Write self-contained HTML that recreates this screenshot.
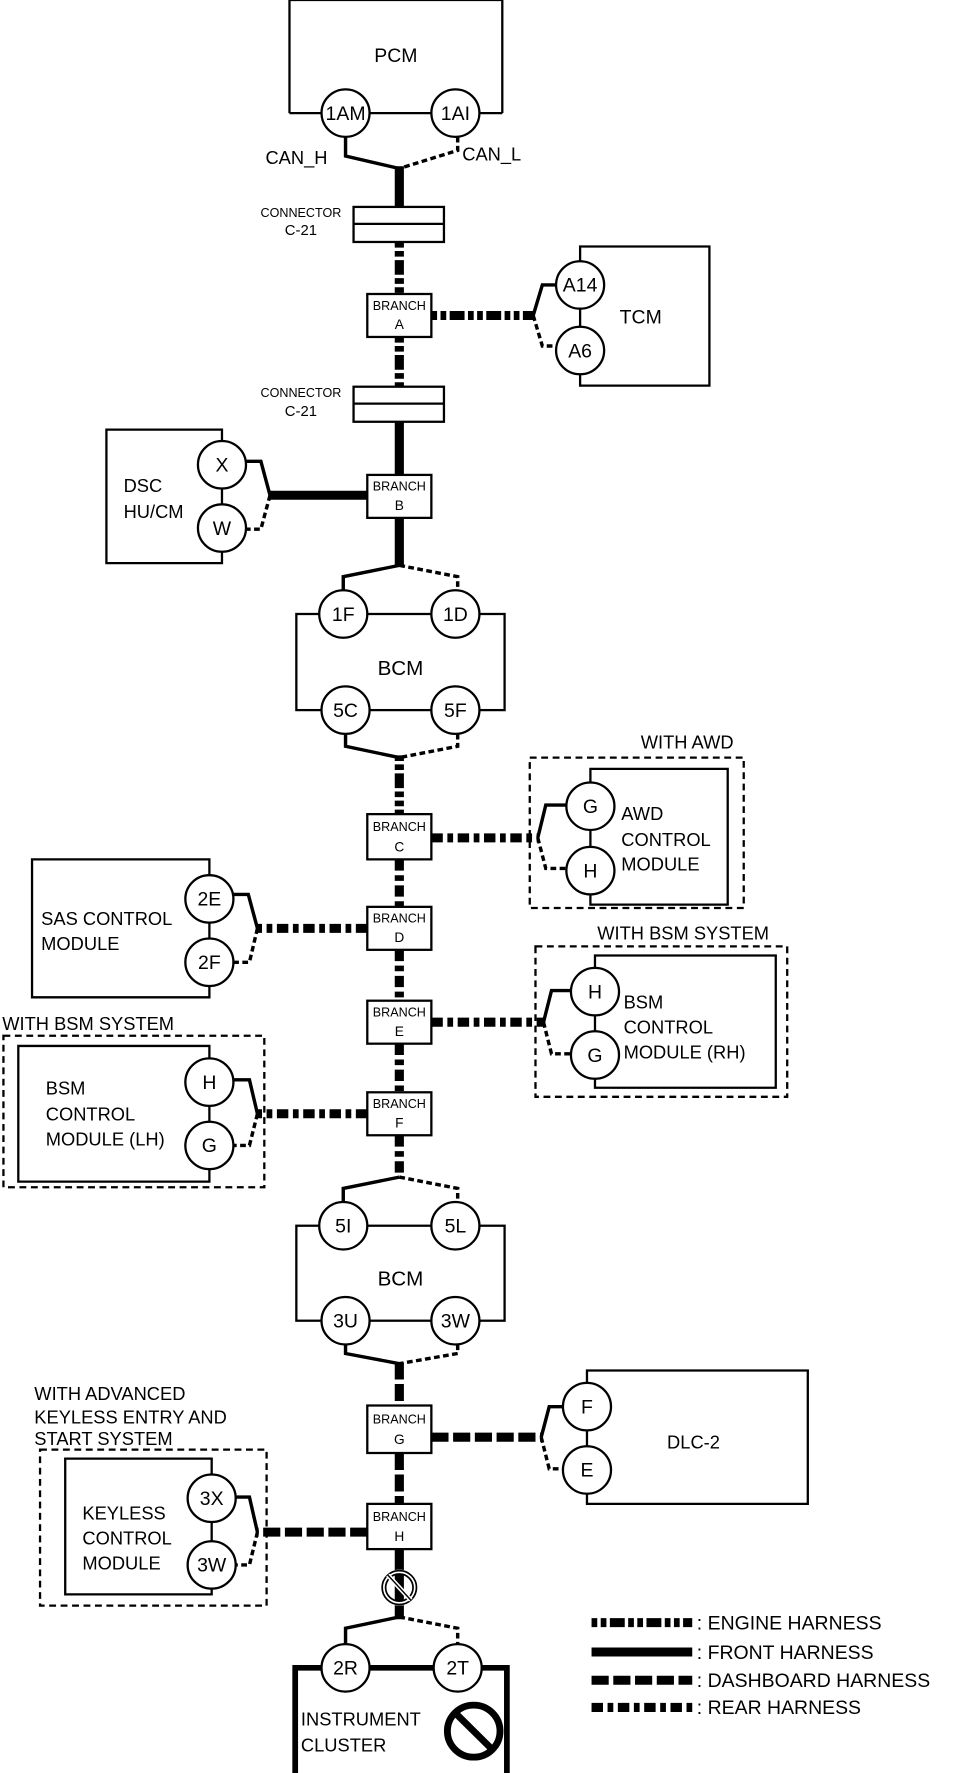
<!DOCTYPE html>
<html><head><meta charset="utf-8"><style>
html,body{margin:0;padding:0;background:#fff}
svg{display:block}
text{font-family:"Liberation Sans",Arial,sans-serif;fill:#000}
</style></head><body>
<svg width="976" height="1773" viewBox="0 0 853 1568" preserveAspectRatio="none" xmlns="http://www.w3.org/2000/svg">
<defs>
<style>
.box{fill:none;stroke:#000;stroke-width:2}
.dbox{fill:none;stroke:#000;stroke-width:2;stroke-dasharray:6 4}
.c{fill:#fff;stroke:#000;stroke-width:2}
.sol{fill:none;stroke:#000;stroke-width:3}
.dsh{fill:none;stroke:#000;stroke-width:3;stroke-dasharray:5 3}
.eng{fill:none;stroke:#000;stroke-width:8;stroke-dasharray:5 3 5 3 13 3}
.fro{fill:none;stroke:#000;stroke-width:8}
.das{fill:none;stroke:#000;stroke-width:8;stroke-dasharray:15 4}
.rea{fill:none;stroke:#000;stroke-width:8;stroke-dasharray:10 4 5 4}
.br{fill:#fff;stroke:#000;stroke-width:2}
.cl{font-size:17px;text-anchor:middle}
.bt{font-size:11px;text-anchor:middle}
.lb{font-size:16px}
</style>
</defs>

<path class="box" d="M253,100 V0 H439 V100"/>
<line class="box" x1="253" y1="100" x2="439" y2="100"/>
<text x="346" y="55" class="cl">PCM</text>
<path class="sol" d="M302,121 V138 L349,149"/>
<path class="dsh" d="M400,121 V133 L349,149"/>
<circle class="c" cx="302" cy="100" r="21"/><text x="302" y="106" class="cl">1AM</text>
<circle class="c" cx="398" cy="100" r="21"/><text x="398" y="106" class="cl">1AI</text>
<text x="232" y="145" class="lb">CAN_H</text>
<text x="404" y="142" class="lb">CAN_L</text>

<line class="fro" x1="349" y1="147" x2="349" y2="183"/>
<rect class="box" x="309" y="183" width="79" height="31" fill="#fff"/>
<line class="box" x1="309" y1="198" x2="388" y2="198"/>
<text x="263" y="192" class="bt">CONNECTOR</text>
<text x="263" y="208" class="bt" style="font-size:13px">C-21</text>

<line class="eng" x1="349" y1="214" x2="349" y2="260"/>
<rect class="br" x="321" y="260" width="56" height="38"/>
<text x="349" y="274" class="bt">BRANCH</text><text x="349" y="291" class="bt" style="font-size:12px">A</text>
<line class="eng" x1="377" y1="279" x2="466" y2="279"/>
<path class="sol" d="M466,279 L474,252 H487"/>
<path class="dsh" d="M466,279 L474,306 H487"/>
<path class="box" d="M507,252 V218 H620 V341 H507 Z"/>
<circle class="c" cx="507" cy="252" r="21"/><text x="507" y="258" class="cl">A14</text>
<circle class="c" cx="507" cy="310" r="21"/><text x="507" y="316" class="cl">A6</text>
<text x="560" y="286" class="cl">TCM</text>

<line class="eng" x1="349" y1="298" x2="349" y2="342"/>
<rect class="box" x="309" y="342" width="79" height="31" fill="#fff"/>
<line class="box" x1="309" y1="357" x2="388" y2="357"/>
<text x="263" y="351" class="bt">CONNECTOR</text>
<text x="263" y="368" class="bt" style="font-size:13px">C-21</text>

<line class="fro" x1="349" y1="373" x2="349" y2="420"/>
<rect class="br" x="321" y="420" width="56" height="38"/>
<text x="349" y="434" class="bt">BRANCH</text><text x="349" y="451" class="bt" style="font-size:12px">B</text>
<line class="fro" x1="321" y1="438" x2="236" y2="438"/>
<path class="sol" d="M236,438 L228,408 H215"/>
<path class="dsh" d="M236,438 L228,468 H215"/>
<path class="box" d="M194,380 H93 V498 H194 Z"/>
<circle class="c" cx="194" cy="411" r="21"/><text x="194" y="417" class="cl">X</text>
<circle class="c" cx="194" cy="467" r="21"/><text x="194" y="473" class="cl">W</text>
<text x="108" y="435" class="lb">DSC</text>
<text x="108" y="458" class="lb">HU/CM</text>

<line class="fro" x1="349" y1="458" x2="349" y2="500"/>
<path class="sol" d="M349,500 L300,510 V522"/>
<path class="dsh" d="M349,500 L400,510 V522"/>
<rect class="box" x="259" y="543" width="182" height="85"/>
<circle class="c" cx="300" cy="543" r="21"/><text x="300" y="549" class="cl">1F</text>
<circle class="c" cx="398" cy="543" r="21"/><text x="398" y="549" class="cl">1D</text>
<circle class="c" cx="302" cy="628" r="21"/><text x="302" y="634" class="cl">5C</text>
<circle class="c" cx="398" cy="628" r="21"/><text x="398" y="634" class="cl">5F</text>
<text x="350" y="597" class="cl" style="font-size:18px">BCM</text>
<path class="sol" d="M302,649 V660 L349,670"/>
<path class="dsh" d="M400,649 V660 L349,670"/>
<line class="eng" x1="349" y1="668" x2="349" y2="720"/>

<rect class="br" x="321" y="720" width="56" height="40"/>
<text x="349" y="735" class="bt">BRANCH</text><text x="349" y="753" class="bt" style="font-size:12px">C</text>
<line class="rea" x1="377" y1="741" x2="470" y2="741"/>
<path class="sol" d="M470,741 L477,712 H495"/>
<path class="dsh" d="M470,741 L477,768 H495"/>
<rect class="dbox" x="463" y="670" width="187" height="133"/>
<path class="box" d="M516,680 H636 V800 H516 Z"/>
<circle class="c" cx="516" cy="713" r="21"/><text x="516" y="719" class="cl">G</text>
<circle class="c" cx="516" cy="770" r="21"/><text x="516" y="776" class="cl">H</text>
<text x="560" y="662" class="lb" >WITH AWD</text>
<text x="543" y="725" class="lb">AWD</text>
<text x="543" y="748" class="lb">CONTROL</text>
<text x="543" y="770" class="lb">MODULE</text>

<line class="rea" x1="349" y1="760" x2="349" y2="802"/>
<rect class="br" x="321" y="802" width="56" height="38"/>
<text x="349" y="816" class="bt">BRANCH</text><text x="349" y="833" class="bt" style="font-size:12px">D</text>
<line class="rea" x1="321" y1="821" x2="225" y2="821"/>
<path class="sol" d="M225,821 L217,791 H204"/>
<path class="dsh" d="M225,821 L218,851 H204"/>
<path class="box" d="M183,760 H28 V882 H183 Z"/>
<circle class="c" cx="183" cy="795" r="21"/><text x="183" y="801" class="cl">2E</text>
<circle class="c" cx="183" cy="851" r="21"/><text x="183" y="857" class="cl">2F</text>
<text x="36" y="818" class="lb">SAS CONTROL</text>
<text x="36" y="840" class="lb">MODULE</text>

<line class="rea" x1="349" y1="840" x2="349" y2="885"/>
<rect class="br" x="321" y="885" width="56" height="38"/>
<text x="349" y="899" class="bt">BRANCH</text><text x="349" y="916" class="bt" style="font-size:12px">E</text>
<line class="rea" x1="377" y1="904" x2="475" y2="904"/>
<path class="sol" d="M475,904 L482,876 H499"/>
<path class="dsh" d="M475,904 L482,932 H499"/>
<rect class="dbox" x="468" y="837" width="220" height="133"/>
<path class="box" d="M520,845 H678 V962 H520 Z"/>
<circle class="c" cx="520" cy="877" r="21"/><text x="520" y="883" class="cl">H</text>
<circle class="c" cx="520" cy="933" r="21"/><text x="520" y="939" class="cl">G</text>
<text x="522" y="831" class="lb">WITH BSM SYSTEM</text>
<text x="545" y="892" class="lb">BSM</text>
<text x="545" y="914" class="lb">CONTROL</text>
<text x="545" y="936" class="lb">MODULE (RH)</text>

<line class="rea" x1="349" y1="923" x2="349" y2="966"/>
<rect class="br" x="321" y="966" width="56" height="38"/>
<text x="349" y="980" class="bt">BRANCH</text><text x="349" y="997" class="bt" style="font-size:12px">F</text>
<line class="rea" x1="321" y1="985" x2="225" y2="985"/>
<path class="sol" d="M225,985 L218,955 H204"/>
<path class="dsh" d="M225,985 L218,1013 H204"/>
<rect class="dbox" x="3" y="916" width="228" height="134"/>
<path class="box" d="M183,925 H16 V1045 H183 Z"/>
<circle class="c" cx="183" cy="957" r="21"/><text x="183" y="963" class="cl">H</text>
<circle class="c" cx="183" cy="1013" r="21"/><text x="183" y="1019" class="cl">G</text>
<text x="2" y="911" class="lb">WITH BSM SYSTEM</text>
<text x="40" y="968" class="lb">BSM</text>
<text x="40" y="991" class="lb">CONTROL</text>
<text x="40" y="1013" class="lb">MODULE (LH)</text>

<line class="rea" x1="349" y1="1004" x2="349" y2="1042"/>
<path class="sol" d="M349,1041 L300,1051 V1063"/>
<path class="dsh" d="M349,1041 L400,1051 V1063"/>
<rect class="box" x="259" y="1084" width="182" height="84"/>
<circle class="c" cx="300" cy="1084" r="21"/><text x="300" y="1090" class="cl">5I</text>
<circle class="c" cx="398" cy="1084" r="21"/><text x="398" y="1090" class="cl">5L</text>
<circle class="c" cx="302" cy="1168" r="21"/><text x="302" y="1174" class="cl">3U</text>
<circle class="c" cx="398" cy="1168" r="21"/><text x="398" y="1174" class="cl">3W</text>
<text x="350" y="1137" class="cl" style="font-size:18px">BCM</text>
<path class="sol" d="M302,1189 V1197 L349,1206"/>
<path class="dsh" d="M400,1189 V1197 L349,1206"/>
<line class="das" x1="349" y1="1205" x2="349" y2="1243"/>

<rect class="br" x="321" y="1243" width="56" height="42"/>
<text x="349" y="1259" class="bt">BRANCH</text><text x="349" y="1277" class="bt" style="font-size:12px">G</text>
<line class="das" x1="377" y1="1271" x2="473" y2="1271"/>
<path class="sol" d="M473,1271 L480,1244 H492"/>
<path class="dsh" d="M473,1271 L480,1299 H492"/>
<path class="box" d="M513,1212 H706 V1330 H513 Z"/>
<circle class="c" cx="513" cy="1244" r="21"/><text x="513" y="1250" class="cl">F</text>
<circle class="c" cx="513" cy="1300" r="21"/><text x="513" y="1306" class="cl">E</text>
<text x="583" y="1281" class="lb">DLC-2</text>

<line class="das" x1="349" y1="1285" x2="349" y2="1330"/>
<rect class="br" x="321" y="1330" width="56" height="40"/>
<text x="349" y="1345" class="bt">BRANCH</text><text x="349" y="1363" class="bt" style="font-size:12px">H</text>
<line class="das" x1="321" y1="1355" x2="225" y2="1355"/>
<path class="sol" d="M225,1355 L218,1324 H205"/>
<path class="dsh" d="M225,1355 L218,1384 H205"/>
<rect class="dbox" x="35" y="1282" width="198" height="138"/>
<path class="box" d="M185,1290 H57 V1410 H185 Z"/>
<circle class="c" cx="185" cy="1325" r="21"/><text x="185" y="1331" class="cl">3X</text>
<circle class="c" cx="185" cy="1384" r="21"/><text x="185" y="1390" class="cl">3W</text>
<text x="30" y="1238" class="lb">WITH ADVANCED</text>
<text x="30" y="1259" class="lb">KEYLESS ENTRY  AND</text>
<text x="30" y="1278" class="lb">START SYSTEM</text>
<text x="72" y="1344" class="lb">KEYLESS</text>
<text x="72" y="1366" class="lb">CONTROL</text>
<text x="72" y="1388" class="lb">MODULE</text>

<line class="fro" x1="349" y1="1370" x2="349" y2="1432"/>
<circle cx="349" cy="1404" r="14" fill="none" stroke="#fff" stroke-width="4"/>
<circle cx="349" cy="1404" r="15" fill="none" stroke="#000" stroke-width="1.5"/>
<circle cx="349" cy="1404" r="12" fill="none" stroke="#000" stroke-width="1.5"/>
<line x1="339" y1="1393" x2="359" y2="1415" stroke="#fff" stroke-width="4"/>
<line x1="339" y1="1393" x2="359" y2="1415" stroke="#000" stroke-width="1.2"/>

<path class="sol" d="M349,1430 L302,1440 V1454"/>
<path class="dsh" d="M349,1430 L400,1440 V1454"/>
<path d="M258,1568 V1475 H443 V1568" fill="none" stroke="#000" stroke-width="5"/>
<circle class="c" cx="302" cy="1475" r="21"/><text x="302" y="1481" class="cl">2R</text>
<circle class="c" cx="400" cy="1475" r="21"/><text x="400" y="1481" class="cl">2T</text>
<text x="263" y="1526" class="lb">INSTRUMENT</text>
<text x="263" y="1549" class="lb">CLUSTER</text>
<circle cx="414" cy="1531" r="23" fill="none" stroke="#000" stroke-width="6"/>
<line x1="398" y1="1515" x2="430" y2="1547" stroke="#000" stroke-width="6"/>

<line class="eng" x1="517" y1="1435" x2="605" y2="1435"/>
<line class="fro" x1="517" y1="1461" x2="605" y2="1461"/>
<line class="das" x1="517" y1="1486" x2="605" y2="1486"/>
<line class="rea" x1="517" y1="1510" x2="605" y2="1510"/>
<text x="609" y="1441" class="lb" style="font-size:17px">: ENGINE HARNESS</text>
<text x="609" y="1467" class="lb" style="font-size:17px">: FRONT HARNESS</text>
<text x="609" y="1492" class="lb" style="font-size:17px">: DASHBOARD HARNESS</text>
<text x="609" y="1516" class="lb" style="font-size:17px">: REAR HARNESS</text>
</svg>
</body></html>
